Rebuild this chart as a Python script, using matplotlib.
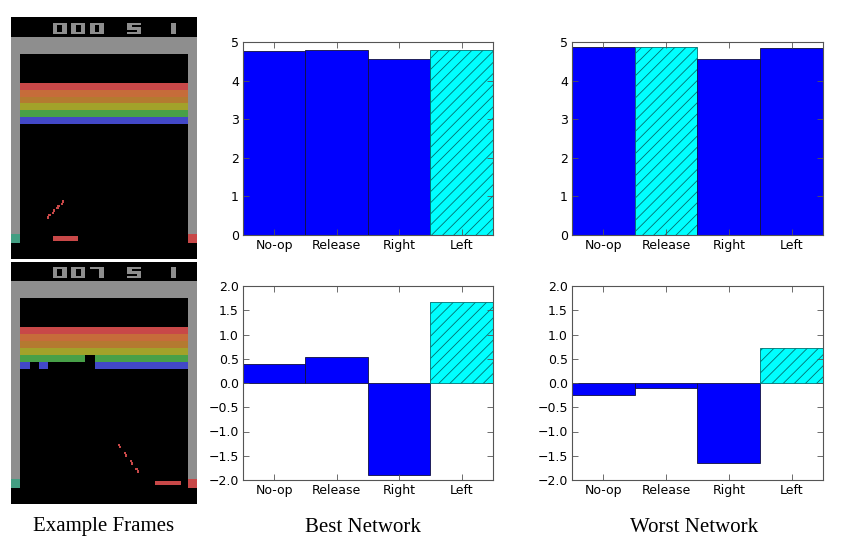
import numpy as np
import matplotlib
matplotlib.use("Agg")
import matplotlib.pyplot as plt

# action values
actions = ['No-op', 'Release', 'Right', 'Left']
best_top = [4.77, 4.79, 4.57, 4.79]
best_bottom = [0.40, 0.53, -1.90, 1.68]
worst_top = [4.86, 4.86, 4.56, 4.84]
worst_bottom = [-0.25, -0.11, -1.65, 0.72]
best_pick = 3    # highlighted (hatched) action
worst_pick_top = 1
worst_pick_bottom = 3

# breakout frames (atari 160x210 screen)
score1 = '000 5 1'
score2 = '007 5 1'
brick_colors = [(200, 72, 72), (198, 108, 58), (180, 122, 48),
                (162, 162, 42), (72, 160, 72), (66, 72, 200)]
missing2 = {4: [7], 5: [1, 3, 4, 5, 6, 7]}  # row -> brick index removed
paddle1 = 36
paddle2 = 124
ball1 = [(31, 174), (35, 170), (39, 166), (43, 162)]
ball2 = [(92, 158), (97, 165), (102, 172), (107, 179)]

DIGITS = {
    '0': ["111111", "110011", "110011", "110011", "111111"],
    '1': ["000110", "000110", "000110", "000110", "000110"],
    '5': ["111111", "110000", "111111", "000011", "111111"],
    '7': ["111111", "000011", "000011", "000011", "000011"],
}


def make_frame(score, missing, paddle_x, ball, down):
    img = np.zeros((210, 160, 3), dtype=np.uint8)
    gray = (142, 142, 142)
    # score
    col = 36
    for ch in score:
        if ch == ' ':
            col += 16
            continue
        for r, line in enumerate(DIGITS[ch]):
            for c, v in enumerate(line):
                if v == '1':
                    img[5 + r * 2:7 + r * 2, col + c * 2:col + c * 2 + 2] = gray
        col += 16
    # walls
    img[17:32, :] = gray
    img[17:188, 0:8] = gray
    img[17:188, 152:160] = gray
    img[188:196, 0:8] = (66, 158, 130)
    img[188:196, 152:160] = (200, 72, 72)
    # bricks
    for i, color in enumerate(brick_colors):
        r0 = 57 + i * 6
        img[r0:r0 + 6, 8:152] = color
        for b in missing.get(i, []):
            img[r0:r0 + 6, 8 + b * 8:16 + b * 8] = 0
    # paddle
    img[190:194, paddle_x:paddle_x + 22] = (200, 72, 72)
    # ball trail
    for bx, by in ball:
        for k in range(4):
            r = by + k if down else by - k
            img[r:r + 1, bx + k // 2:bx + k // 2 + 2] = (200, 72, 72)
    return img


fig = plt.figure(figsize=(8.54, 5.47), dpi=100)

for y0, score, missing, px, ball, down in [(17, score1, {}, paddle1, ball1, False),
                                          (262, score2, missing2, paddle2, ball2, True)]:
    ax = fig.add_axes([11 / 854, 1 - (y0 + 242) / 547, 186 / 854, 242 / 547])
    ax.imshow(make_frame(score, missing, px, ball, down), aspect='auto', interpolation='nearest')
    ax.axis('off')

plt.rcParams['hatch.linewidth'] = 0.6


def bar_panel(rect, values, pick, ylim, yticks, ylabels):
    ax = fig.add_axes(rect)
    x = np.arange(len(values)) + 0.5
    colors = ['#0000ff'] * len(values)
    colors[pick] = '#00ffff'
    bars = ax.bar(x, values, width=1.0, color=colors, edgecolor='#101040', linewidth=0.6)
    bars[pick].set_hatch('///')
    bars[pick].set_edgecolor('#007070')
    ax.set_xlim(0, len(values))
    ax.set_ylim(*ylim)
    ax.set_xticks(x)
    ax.set_xticklabels(actions)
    ax.set_yticks(yticks)
    ax.set_yticklabels(ylabels)
    ax.tick_params(direction='in', top=True, right=True, length=4, width=0.6,
                   color='#555555', labelsize=9, pad=3)
    for s in ax.spines.values():
        s.set_color('#555555')
        s.set_linewidth(0.8)
    return ax


top_ticks = [0, 1, 2, 3, 4, 5]
top_labels = [str(t) for t in top_ticks]
bot_ticks = [2.0, 1.5, 1.0, 0.5, 0.0, -0.5, -1.0, -1.5, -2.0]
bot_labels = ['%.1f' % t for t in bot_ticks]
bot_labels = [l.replace('-', '\u2212') for l in bot_labels]

bar_panel([243 / 854, 1 - 235 / 547, 250 / 854, 193 / 547], best_top, best_pick,
          (0, 5), top_ticks, top_labels)
bar_panel([243 / 854, 1 - 480 / 547, 250 / 854, 194 / 547], best_bottom, best_pick,
          (-2, 2), bot_ticks, bot_labels)
bar_panel([572 / 854, 1 - 235 / 547, 251 / 854, 193 / 547], worst_top, worst_pick_top,
          (0, 5), top_ticks, top_labels)
bar_panel([572 / 854, 1 - 480 / 547, 251 / 854, 194 / 547], worst_bottom, worst_pick_bottom,
          (-2, 2), bot_ticks, bot_labels)

cap = dict(family='Liberation Serif', fontsize=15, ha='center', va='center')
fig.text(104 / 854, 1 - 527 / 547, 'Example Frames', **cap)
fig.text(363 / 854, 1 - 527 / 547, 'Best Network', **cap)
fig.text(694 / 854, 1 - 527 / 547, 'Worst Network', **cap)

fig.savefig('out.png', dpi=100)
